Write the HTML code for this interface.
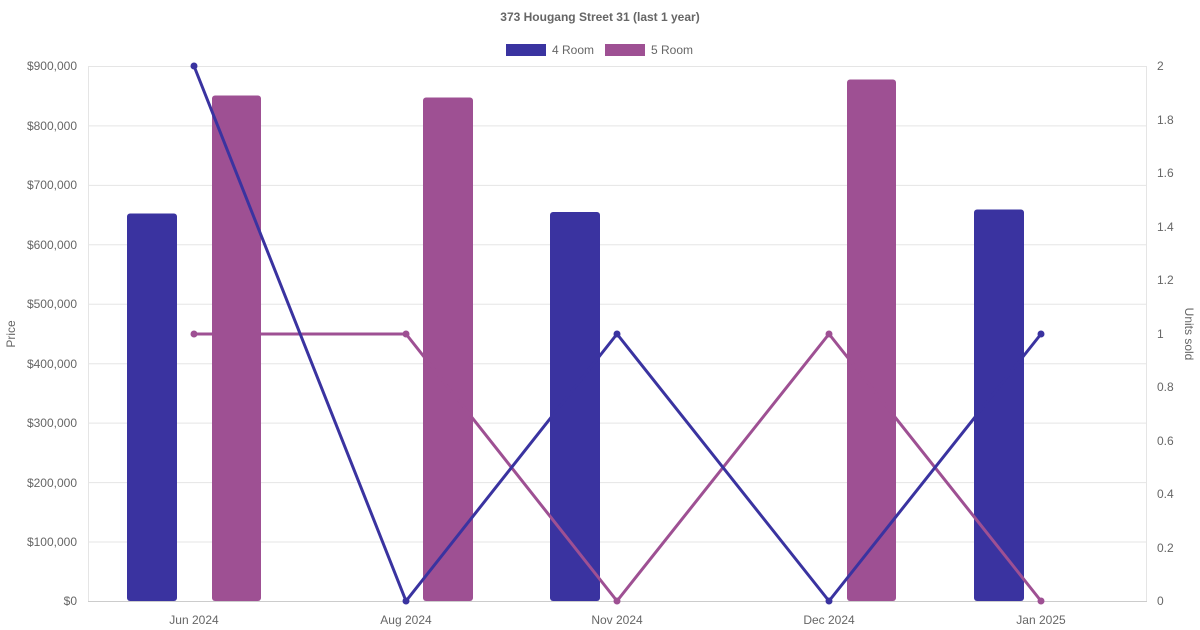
<!DOCTYPE html>
<html><head><meta charset="utf-8"><style>
body{margin:0;background:#fff;}
svg{display:block;font-family:"Liberation Sans",sans-serif;}
</style></head><body>
<svg width="1200" height="630" viewBox="0 0 1200 630" xmlns="http://www.w3.org/2000/svg">
<text x="600" y="21" text-anchor="middle" font-size="12" font-weight="bold" fill="#666">373 Hougang Street 31 (last 1 year)</text>
<rect x="506" y="44" width="40" height="12" fill="#3a33a0"/>
<text x="552" y="54" font-size="12" fill="#666">4 Room</text>
<rect x="605" y="44" width="40" height="12" fill="#9e5093"/>
<text x="651" y="54" font-size="12" fill="#666">5 Room</text>
<g stroke="#e5e5e5" stroke-width="1">
<line x1="88" y1="66.5" x2="1147" y2="66.5"/><line x1="88" y1="125.9" x2="1147" y2="125.9"/>
<line x1="88" y1="185.4" x2="1147" y2="185.4"/><line x1="88" y1="244.8" x2="1147" y2="244.8"/>
<line x1="88" y1="304.2" x2="1147" y2="304.2"/><line x1="88" y1="363.7" x2="1147" y2="363.7"/>
<line x1="88" y1="423.1" x2="1147" y2="423.1"/><line x1="88" y1="482.6" x2="1147" y2="482.6"/>
<line x1="88" y1="542" x2="1147" y2="542"/>
<line x1="88.5" y1="66" x2="88.5" y2="601"/><line x1="1146.5" y1="66" x2="1146.5" y2="601"/>
</g>
<line x1="88" y1="601.5" x2="1147" y2="601.5" stroke="#ccc"/>
<g font-size="12" fill="#666" text-anchor="end">
<text x="77" y="70">$900,000</text><text x="77" y="130">$800,000</text><text x="77" y="189">$700,000</text>
<text x="77" y="249">$600,000</text><text x="77" y="308">$500,000</text><text x="77" y="368">$400,000</text>
<text x="77" y="427">$300,000</text><text x="77" y="487">$200,000</text><text x="77" y="546">$100,000</text>
<text x="77" y="605">$0</text>
</g>
<g font-size="12" fill="#666">
<text x="1157" y="70">2</text><text x="1157" y="124">1.8</text><text x="1157" y="177">1.6</text>
<text x="1157" y="231">1.4</text><text x="1157" y="284">1.2</text><text x="1157" y="338">1</text>
<text x="1157" y="391">0.8</text><text x="1157" y="445">0.6</text><text x="1157" y="498">0.4</text>
<text x="1157" y="552">0.2</text><text x="1157" y="605">0</text>
</g>
<g font-size="12" fill="#666" text-anchor="middle">
<text x="194" y="624">Jun 2024</text><text x="406" y="624">Aug 2024</text><text x="617" y="624">Nov 2024</text>
<text x="829" y="624">Dec 2024</text><text x="1041" y="624">Jan 2025</text>
</g>
<text transform="translate(15,334) rotate(-90)" font-size="12" fill="#666" text-anchor="middle">Price</text>
<text transform="translate(1185,334) rotate(90)" font-size="12" fill="#666" text-anchor="middle">Units sold</text>
<g fill="#3a33a0">
<rect x="127" y="213.5" width="50" height="387.5" rx="3"/>
<rect x="550" y="212" width="50" height="389" rx="3"/>
<rect x="974" y="209.5" width="50" height="391.5" rx="3"/>
</g>
<g fill="#9e5093">
<rect x="212" y="95.5" width="49" height="505.5" rx="3"/>
<rect x="423" y="97.5" width="50" height="503.5" rx="3"/>
<rect x="847" y="79.5" width="49" height="521.5" rx="3"/>
</g>
<polyline points="194,334 406,334 617,601 829,334 1041,601" fill="none" stroke="#9e5093" stroke-width="3"/>
<polyline points="194,66 406,601 617,334 829,601 1041,334" fill="none" stroke="#3a33a0" stroke-width="3"/>
<g fill="#9e5093"><circle cx="194" cy="334" r="3.5"/><circle cx="406" cy="334" r="3.5"/><circle cx="617" cy="601" r="3.5"/><circle cx="829" cy="334" r="3.5"/><circle cx="1041" cy="601" r="3.5"/></g>
<g fill="#3a33a0"><circle cx="194" cy="66" r="3.5"/><circle cx="406" cy="601" r="3.5"/><circle cx="617" cy="334" r="3.5"/><circle cx="829" cy="601" r="3.5"/><circle cx="1041" cy="334" r="3.5"/></g>
</svg>
</body></html>
